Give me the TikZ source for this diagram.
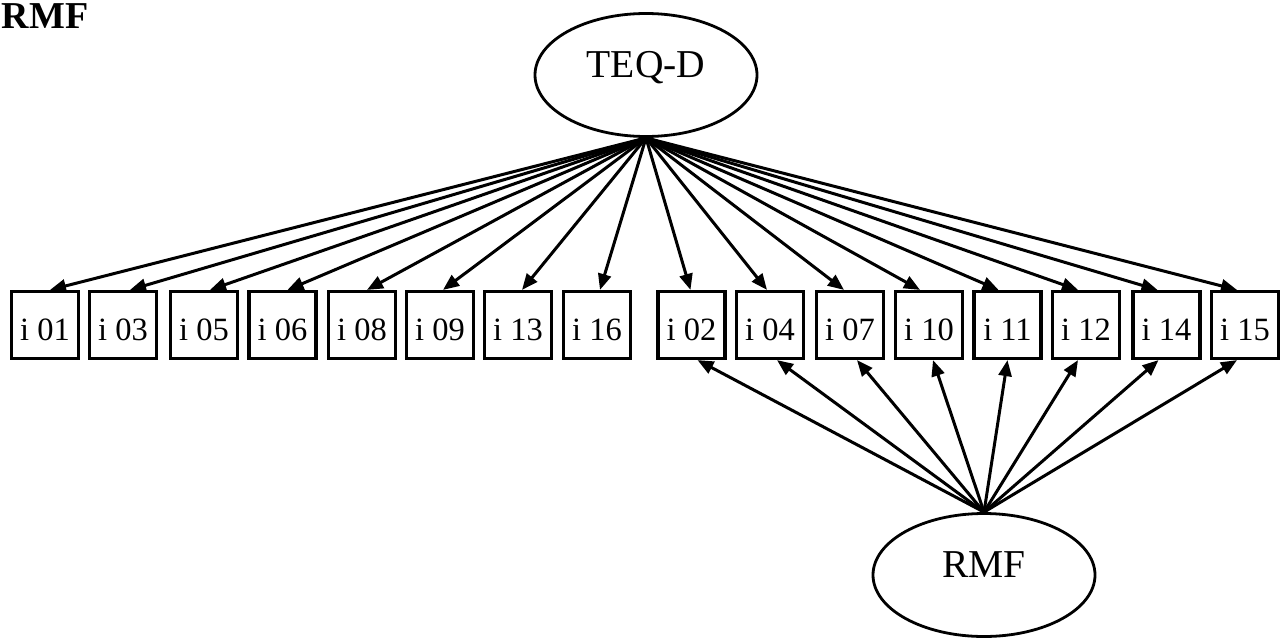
\documentclass[tikz,border=0pt]{standalone}
\usepackage{fontspec}
\setmainfont{Liberation Serif}
\usetikzlibrary{arrows.meta,shapes.geometric}
\begin{document}
\begin{tikzpicture}[x=1pt,y=-1pt,
  item/.style={draw, line width=3.2pt, minimum width=67pt, minimum height=67pt,
    inner sep=0pt, font=\fontsize{32.5}{32.5}\selectfont, text height=30pt, text depth=0pt},
  latent/.style={draw, ellipse, line width=2.8pt, minimum width=222pt, minimum height=123pt,
    inner sep=0pt, font=\fontsize{39.5}{39.5}\selectfont, text height=20pt, text depth=15pt},
  load/.style={-{Triangle[length=16pt,width=13pt]}, line width=3pt}]
\useasboundingbox (0,0) rectangle (1281,637);

% heading
\node[anchor=base west, inner sep=0pt, font=\bfseries\fontsize{38}{38}\selectfont] (heading) at (1.5,28) {RMF};

% latent factors
\node[latent] (teq) at (646,75) {TEQ-D};
\node[latent] (rmf) at (984,575) {RMF};

% observed items
\foreach \n/\x in {01/45, 03/123, 05/204, 06/282.5, 08/362, 09/440, 13/518, 16/597,
                   02/691.5, 04/770, 07/850, 10/929, 11/1007.5, 12/1086, 14/1166.5, 15/1245}
  \node[item] (i\n) at (\x,325) {i \n};

% loadings of TEQ-D
\foreach \n/\d in {01/5, 03/7, 05/6, 06/5, 08/5, 09/3, 13/4, 16/3,
                   02/-1, 04/-3, 07/-6, 10/-9, 11/-9, 12/-8, 14/-9, 15/-8}
  \draw[load] (teq.south) -- ([xshift=\d pt]i\n.north);

% loadings of RMF
\foreach \n/\d in {02/6, 04/7, 07/7, 10/4, 11/0, 12/-8, 14/-8, 15/-8}
  \draw[load] (rmf.north) -- ([xshift=\d pt]i\n.south);
\end{tikzpicture}
\end{document}
